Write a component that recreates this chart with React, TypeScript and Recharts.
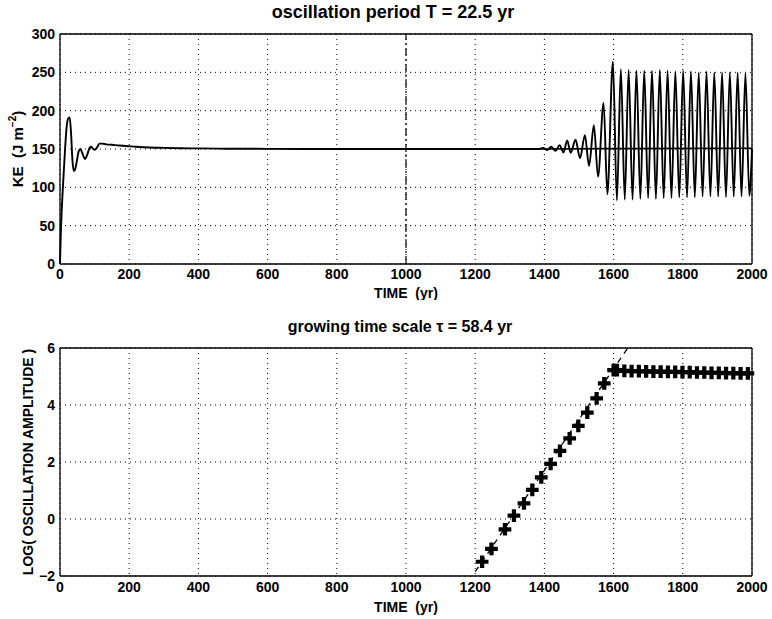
import React from 'react';
import { LineChart, ComposedChart, Line, Scatter, XAxis, YAxis, ZAxis, CartesianGrid, ReferenceLine } from 'recharts';

const FONT = "'Liberation Sans', Arial, Helvetica, sans-serif";

// axis ticks
const timeTicks = [0, 200, 400, 600, 800, 1000, 1200, 1400, 1600, 1800, 2000];
const keTicks = [0, 50, 100, 150, 200, 250, 300];
const logTicks = [-2, 0, 2, 4, 6];

// top panel: kinetic energy (J m^-2) vs time (yr)
const keTime = [
  0, 2, 5, 9, 14, 19, 24, 28, 32, 36, 40, 44, 49, 54, 59, 65, 72, 79, 85, 90, 96, 101, 107, 114, 122, 134,
  150, 170, 190, 220, 260, 300, 350, 400, 480, 600, 800, 1000, 1200, 1370,
  1384, 1396, 1408, 1420, 1432, 1444, 1455, 1466, 1476, 1490, 1503, 1517, 1529, 1543, 1555, 1571, 1582, 1598, 1609.5,
  1621, 1632.25, 1643.5, 1654.75, 1666, 1677.25, 1688.5, 1699.75, 1711, 1722.25, 1733.5, 1744.75, 1756, 1767.25,
  1778.5, 1789.75, 1801, 1812.25, 1823.5, 1834.75, 1846, 1857.25, 1868.5, 1879.75, 1891, 1902.25, 1913.5, 1924.75,
  1936, 1947.25, 1958.5, 1969.75, 1981, 1992.25, 2000,
];
const keValue = [
  0, 35, 70, 105, 145, 178, 190, 191, 170, 135, 121, 124, 135, 147, 150, 144, 137, 143, 151, 153, 150, 149, 152, 157, 157, 156,
  155.5, 154.5, 154, 153, 152, 151.5, 151, 150.8, 150.4, 150.2, 150, 150, 150, 150,
  150, 151.5, 148.5, 153, 147.5, 155, 145.5, 161, 145, 162, 138, 168, 128, 181, 114, 210, 91, 264, 83,
  254, 84, 253, 84, 252, 85, 252, 86, 252, 85, 253, 86, 252, 86,
  251, 87, 252, 87, 251, 87, 250, 88, 251, 88, 250, 88, 250, 87,
  250, 88, 250, 88, 249, 89, 150,
];
const meanTime = [1380, 1600, 2000];
const meanValue = [150, 150.5, 151];

// bottom panel: log of oscillation amplitude and the growth fit
const ampTime = [
  1220, 1247, 1286, 1312, 1341, 1365, 1391, 1418, 1445, 1473, 1498, 1524, 1551, 1573, 1600,
  1610, 1631, 1652, 1673, 1694, 1715, 1736, 1757, 1778, 1799, 1820, 1841, 1862, 1883, 1904, 1925, 1946, 1967, 1988,
];
const ampValue = [
  -1.5, -1.05, -0.36, 0.12, 0.55, 1.02, 1.46, 1.93, 2.39, 2.83, 3.27, 3.73, 4.23, 4.76, 5.22,
  5.22, 5.2, 5.19, 5.19, 5.18, 5.17, 5.17, 5.16, 5.16, 5.15, 5.15, 5.14, 5.14, 5.13, 5.13, 5.12, 5.12, 5.11, 5.11,
];
const fitTime = [1200, 1641];
const fitValue = [-1.85, 6];

const zip = (ts: number[], vs: number[]) => ts.map((t, i) => ({ t, v: vs[i] }));
const keData = zip(keTime, keValue);
const meanData = zip(meanTime, meanValue);
const ampData = zip(ampTime, ampValue);
const fitData = zip(fitTime, fitValue);

const tickStyle = { fontFamily: FONT, fontSize: 14, fontWeight: 'bold', fill: '#000' };
const labelStyle = { fontFamily: FONT, fontSize: 14, fontWeight: 'bold', fill: '#000' };
const frame = { stroke: '#000', strokeWidth: 1.3 };
const inTick = { stroke: '#000', strokeWidth: 1 };
const minus = (v: number) => String(v).replace('-', '\u2212');
const noLabel = () => <g />;

const YLabel = (props: any) => {
  const { viewBox, dx, size, children } = props;
  const cx = viewBox.x + dx;
  const cy = viewBox.y + viewBox.height / 2;
  return (
    <text
      transform={`translate(${cx},${cy}) rotate(-90)`}
      textAnchor="middle"
      dominantBaseline="central"
      style={{ ...labelStyle, fontSize: size || 14 }}
    >
      {children}
    </text>
  );
};

const titleStyle = (top: number, size: number, left: number): React.CSSProperties => ({
  position: 'absolute',
  left,
  width: 692,
  top,
  textAlign: 'center',
  fontFamily: FONT,
  fontWeight: 'bold',
  fontSize: size,
  lineHeight: `${size + 2}px`,
  color: '#000',
});

// MATLAB style frame: inward ticks on every side
const frameAxes = (xTicks: number[], xDomain: number[], yTicks: number[], yDomain: number[]) => [
  <XAxis key="xb" xAxisId="xb" type="number" dataKey="t" domain={xDomain} ticks={xTicks} interval={0} mirror tick={noLabel} tickSize={5} tickLine={inTick} axisLine={false} />,
  <XAxis key="xt" xAxisId="xt" orientation="top" type="number" dataKey="t" domain={xDomain} ticks={xTicks} interval={0} mirror tick={noLabel} tickSize={5} tickLine={inTick} axisLine={frame} />,
  <YAxis key="yl" yAxisId="yl" type="number" domain={yDomain} ticks={yTicks} interval={0} mirror tick={noLabel} tickSize={5} tickLine={inTick} axisLine={false} />,
  <YAxis key="yr" yAxisId="yr" orientation="right" type="number" domain={yDomain} ticks={yTicks} interval={0} mirror tick={noLabel} tickSize={5} tickLine={inTick} axisLine={frame} />,
];

export default function App() {
  return (
    <div style={{ position: 'absolute', left: 0, top: 0, width: 772, height: 619, background: '#fff' }}>
      <div style={titleStyle(2, 18, 47)}>oscillation period T = 22.5 yr</div>
      <div style={{ position: 'absolute', left: 0, top: 0 }}>
        <LineChart width={772} height={300} margin={{ top: 34, right: 20, left: 0, bottom: 0 }}>
          <CartesianGrid stroke="#000" strokeDasharray="1 4" strokeWidth={1} />
          <XAxis
            type="number"
            dataKey="t"
            domain={[0, 2000]}
            ticks={timeTicks}
            interval={0}
            height={36}
            tickLine={false}
            axisLine={frame}
            tick={tickStyle}
            tickSize={3}
            tickMargin={2}
            label={{ value: 'TIME\u00a0\u00a0(yr)', position: 'insideBottom', offset: 2, style: labelStyle }}
          />
          <YAxis
            type="number"
            domain={[0, 300]}
            ticks={keTicks}
            interval={0}
            width={60}
            tickLine={false}
            axisLine={frame}
            tick={tickStyle}
            tickSize={3}
            tickMargin={2}
            label={
              <YLabel dx={17} size={15}>
                KE{'\u00a0\u00a0'}(J m<tspan dy={-5} fontSize={10}>{'\u2212'}2</tspan>
                <tspan dy={5}>)</tspan>
              </YLabel>
            }
          />
          {frameAxes(timeTicks, [0, 2000], keTicks, [0, 300])}
          <ReferenceLine x={1000} stroke="#000" strokeWidth={1.2} strokeDasharray="8 3 2 3" />
          <Line data={meanData} dataKey="v" type="linear" stroke="#000" strokeWidth={1.6} dot={false} isAnimationActive={false} />
          <Line data={keData} dataKey="v" type="monotone" stroke="#000" strokeWidth={1.9} dot={false} isAnimationActive={false} />
        </LineChart>
      </div>

      <div style={titleStyle(318, 16, 54)}>growing time scale {'\u03c4'} = 58.4 yr</div>
      <div style={{ position: 'absolute', left: 0, top: 300 }}>
        <ComposedChart width={772} height={319} margin={{ top: 48, right: 20, left: 0, bottom: 0 }}>
          <CartesianGrid stroke="#000" strokeDasharray="1 4" strokeWidth={1} />
          <XAxis
            type="number"
            dataKey="t"
            domain={[0, 2000]}
            ticks={timeTicks}
            interval={0}
            height={43}
            tickLine={false}
            axisLine={frame}
            tick={tickStyle}
            tickSize={4}
            tickMargin={2}
            label={{ value: 'TIME\u00a0\u00a0(yr)', position: 'insideBottom', offset: 7, style: labelStyle }}
          />
          <YAxis
            type="number"
            domain={[-2, 6]}
            ticks={logTicks}
            interval={0}
            width={60}
            tickLine={false}
            axisLine={frame}
            tick={tickStyle}
            tickSize={3}
            tickMargin={2}
            tickFormatter={minus}
            allowDataOverflow
            label={<YLabel dx={28}>LOG( OSCILLATION AMPLITUDE )</YLabel>}
          />
          {frameAxes(timeTicks, [0, 2000], logTicks, [-2, 6])}
          <ZAxis range={[90, 90]} />
          <Line data={fitData} dataKey="v" type="linear" stroke="#000" strokeWidth={1.3} strokeDasharray="6 5" dot={false} isAnimationActive={false} />
          <Scatter data={ampData} dataKey="v" shape="cross" fill="#000" isAnimationActive={false} />
        </ComposedChart>
      </div>
    </div>
  );
}
